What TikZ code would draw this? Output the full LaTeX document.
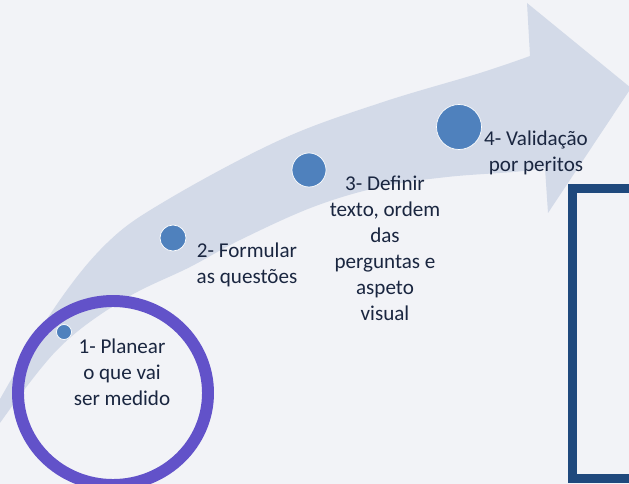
\documentclass[tikz,border=0pt]{standalone}
\usepackage{fontspec}
\setmainfont{Carlito}
\usetikzlibrary{positioning}
\definecolor{fundo}{RGB}{242,243,247}
\definecolor{seta}{RGB}{211,218,232}
\definecolor{azul}{RGB}{79,129,189}
\definecolor{roxo}{RGB}{98,82,201}
\definecolor{marinho}{RGB}{31,73,125}
\definecolor{texto}{RGB}{26,38,64}
\tikzset{
  ponto/.style={
    circle,
    fill=azul,
    draw=white, line width=0.5pt,
    inner sep=0pt},
  etapa/.style={
    align=center,
    text=texto,
    inner sep=0pt,
    font=\fontsize{15}{18.5}\selectfont},
}
\begin{document}
\begin{tikzpicture}[x=0.025cm, y=-0.025cm]
  \useasboundingbox (0,0) rectangle (629,484);
  \clip (0,0) rectangle (629,484);
  \fill[fundo] (0,0) rectangle (629,484);
  % seta curva
  \fill[seta] plot[smooth, tension=0.6] coordinates {(-5,408) (53,310) (107,243) (167,200)
      (280,140) (380,103) (480,73) (530,56)}
    -- (527,3) -- (631,88) -- (548,213) -- (545,168)
    -- plot[smooth, tension=0.6] coordinates {(545,168) (513,172) (447,177) (380,187)
      (313,207) (240,240) (190,267) (123,300) (57,350) (-5,430)} -- cycle;
  % etapas
  \node[ponto, minimum size=0.375cm] (p1) at (64,332) {};
  \node[ponto, minimum size=0.65cm]  (p2) at (173,238) {};
  \node[ponto, minimum size=0.85cm]  (p3) at (309,170) {};
  \node[ponto, minimum size=1.125cm] (p4) at (459,127) {};
  \node[etapa] (e1) at (122,372) {1- Planear\\o que vai\\ser medido};
  \node[etapa] (e2) at (247,265) {2- Formular\\as questões};
  \node[etapa] (e3) at (385,248) {3- Definir\\texto, ordem\\das\\perguntas e\\aspeto\\visual};
  \node[etapa] (e4) at (536,153) {4- Validação\\por peritos};
  % destaque
  \draw[roxo, line width=8.5pt] (113,393) ellipse [x radius=95, y radius=92];
  \draw[marinho, line width=6.4pt] (650,189) -- (572,189) -- (572,478) -- (650,478);
\end{tikzpicture}
\end{document}
